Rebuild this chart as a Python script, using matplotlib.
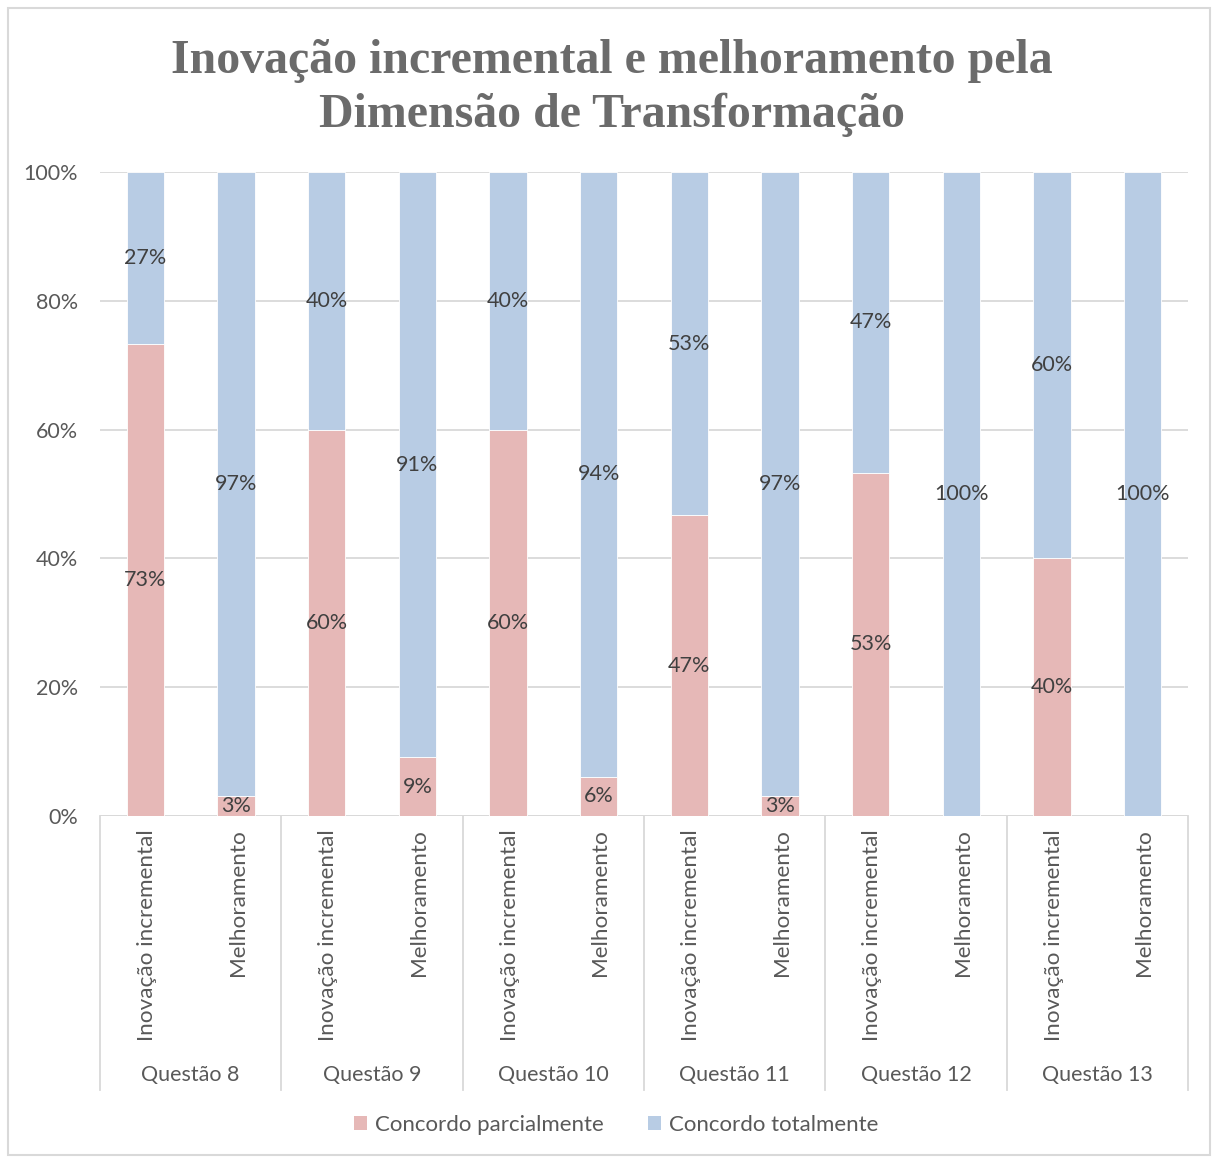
import matplotlib
matplotlib.use("Agg")
import matplotlib.pyplot as plt
import matplotlib.transforms as mtransforms
from matplotlib.patches import Rectangle, Patch
import numpy as np

# data
groups = ["Questão 8", "Questão 9", "Questão 10", "Questão 11", "Questão 12", "Questão 13"]
items = ["Inovação incremental", "Melhoramento"]
parcial = [73.3, 3.1, 60.0, 9.1, 60.0, 6.1, 46.7, 3.1, 53.3, 0.0, 40.0, 0.0]
total = [26.7, 96.9, 40.0, 90.9, 40.0, 93.9, 53.3, 96.9, 46.7, 100.0, 60.0, 100.0]
series_names = ["Concordo parcialmente", "Concordo totalmente"]
colors = ["#E6B8B7", "#B8CCE4"]
title_lines = ["Inovação incremental e melhoramento pela", "Dimensão de Transformação"]

plt.rcParams["font.family"] = ["Lato", "DejaVu Sans"]
TXT = "#595959"
GRID = "#D9D9D9"
FS = 15.5

W, H = 1216, 1157
fig = plt.figure(figsize=(W / 100, H / 100), dpi=100)
fig.patches.append(Rectangle((8 / W, 0.002), (1210 - 8) / W, 1 - 8 / H - 0.002,
                             transform=fig.transFigure, fill=False,
                             edgecolor=GRID, linewidth=1.5))

ax = fig.add_axes([100 / W, 1 - 816 / H, (1188 - 100) / W, (816 - 172) / H])

x = np.arange(len(parcial))
p = np.array(parcial)
t = np.array(total)
ax.bar(x, p, width=0.41, color=colors[0], edgecolor="white", linewidth=0.6, zorder=2)
ax.bar(x, t, bottom=p, width=0.41, color=colors[1], edgecolor="white", linewidth=0.6, zorder=2)

for i in range(len(x)):
    if p[i] > 0:
        ax.text(x[i], p[i] / 2, f"{p[i]:.0f}%", ha="center", va="center",
                fontsize=FS, color="#404040", zorder=3)
    if t[i] > 0:
        ax.text(x[i], p[i] + t[i] / 2, f"{t[i]:.0f}%", ha="center", va="center",
                fontsize=FS, color="#404040", zorder=3)

ax.set_xlim(-0.5, len(x) - 0.5)
ax.set_ylim(0, 100)
ax.set_yticks(np.arange(0, 101, 20))
ax.set_yticklabels([f"{v}%" for v in range(0, 101, 20)], fontsize=FS, color=TXT)
ax.tick_params(axis="y", length=0, pad=16)
ax.set_xticks([])
ax.grid(axis="y", color=GRID, linewidth=1.3, zorder=0)
ax.set_axisbelow(True)
for s in ax.spines.values():
    s.set_visible(False)
ax.axhline(0, color=GRID, linewidth=1.3, zorder=1)

# two-level category axis
trans = mtransforms.blended_transform_factory(ax.transData, ax.transAxes)
sep_bottom = -(1090 - 816) / 644
for b in np.arange(-0.5, len(x), 2):
    ax.plot([b, b], [0, sep_bottom], color=GRID, linewidth=1.3,
            transform=trans, clip_on=False)
for i in range(len(x)):
    ax.text(x[i] + 0.02, -13 / 644, items[i % 2], rotation=90, ha="center", va="top",
            fontsize=16.2, color=TXT, transform=trans)
for g, name in enumerate(groups):
    ax.text(2 * g + 0.5, -(1075 - 816) / 644, name, ha="center", va="center",
            fontsize=FS, color=TXT, transform=trans)

for k, (line, yc) in enumerate(zip(title_lines, [61, 115])):
    fig.text(612 / W, 1 - yc / H, line, ha="center", va="center", fontsize=34.5,
             fontweight="bold", family="Liberation Serif", color="#6b6b6b")

handles = [Patch(facecolor=c, edgecolor="none") for c in colors]
leg = fig.legend(handles, series_names, loc="center", bbox_to_anchor=(616 / W, 1 - 1125 / H),
                 ncol=2, frameon=False, fontsize=16, handlelength=0.6, handleheight=0.6,
                 handletextpad=0.35, columnspacing=2.0)
for txt in leg.get_texts():
    txt.set_color(TXT)

fig.savefig("out.png", dpi=100)
